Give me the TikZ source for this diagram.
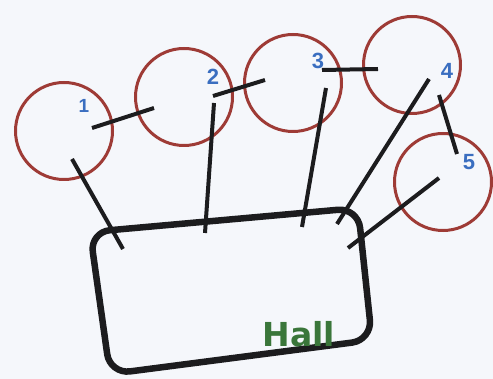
\documentclass[tikz,border=0pt]{standalone}
\usepackage{fontspec}
\newfontfamily\digitfont{Liberation Sans}
\newfontfamily\hallfont{DejaVu Sans}
\definecolor{bgcol}{HTML}{F5F7FB}
\definecolor{ringcol}{HTML}{9E3B36}
\definecolor{numcol}{HTML}{3A6EC0}
\definecolor{hallcol}{HTML}{3A763A}
\definecolor{linecol}{HTML}{1C1C1E}
\begin{document}
\begin{tikzpicture}[x=1pt,y=-1pt,
  ring/.style={circle,draw=ringcol,line width=3pt,minimum size=97pt,inner sep=0pt},
  num/.style={text=numcol,font=\digitfont\bfseries\fontsize{22}{22}\selectfont,inner sep=0pt},
  link/.style={draw=linecol,line width=4pt},
  hallbox/.style={draw=linecol,line width=6.5pt,rounded corners=20pt}]
\fill[bgcol] (0,0) rectangle (493,379);
\useasboundingbox (0,0) rectangle (493,379);
% rings
\node[ring] (c1) at (64,131) {};
\node[ring] (c2) at (184,97) {};
\node[ring] (c3) at (293,83) {};
\node[ring] (c4) at (412,65) {};
\node[ring] (c5) at (443,182) {};
% hall
\coordinate (h1) at (90,232);
\coordinate (h2) at (358,208);
\coordinate (h3) at (372,340);
\coordinate (h4) at (110,374);
\draw[hallbox] (h1) -- (h2) -- (h3) -- (h4) -- cycle;
\node[text=hallcol,font=\hallfont\bfseries\fontsize{33}{33}\selectfont,inner sep=0pt] (hall) at (299,334) {Hall};
% numbers
\node[num,font=\digitfont\bfseries\fontsize{19}{19}\selectfont] (n1) at (84,106) {1};
\node[num] (n2) at (213,77) {2};
\node[num] (n3) at (318,61) {3};
\node[num] (n4) at (447,71) {4};
\node[num] (n5) at (469,162) {5};
% link end points
\coordinate (a1) at (92,128);  \coordinate (b1) at (154,108);
\coordinate (a2) at (213,96);  \coordinate (b2) at (265,80);
\coordinate (a3) at (322,70);  \coordinate (b3) at (378,69);
\coordinate (a4) at (439,95);  \coordinate (b4) at (457,154);
\coordinate (d1) at (72,159);  \coordinate (e1) at (123,249);
\coordinate (d2) at (214,103); \coordinate (e2) at (205,233);
\coordinate (d3) at (326,88);  \coordinate (e3) at (302,227);
\coordinate (d4) at (429,79);  \coordinate (e4) at (337,224);
\coordinate (d5) at (439,178); \coordinate (e5) at (348,248);
\draw[link] (a1) -- (b1);
\draw[link] (a2) -- (b2);
\draw[link] (a3) -- (b3);
\draw[link] (a4) -- (b4);
\draw[link] (d1) -- (e1);
\draw[link] (d2) -- (e2);
\draw[link] (d3) -- (e3);
\draw[link] (d4) -- (e4);
\draw[link] (d5) -- (e5);
\end{tikzpicture}
\end{document}
